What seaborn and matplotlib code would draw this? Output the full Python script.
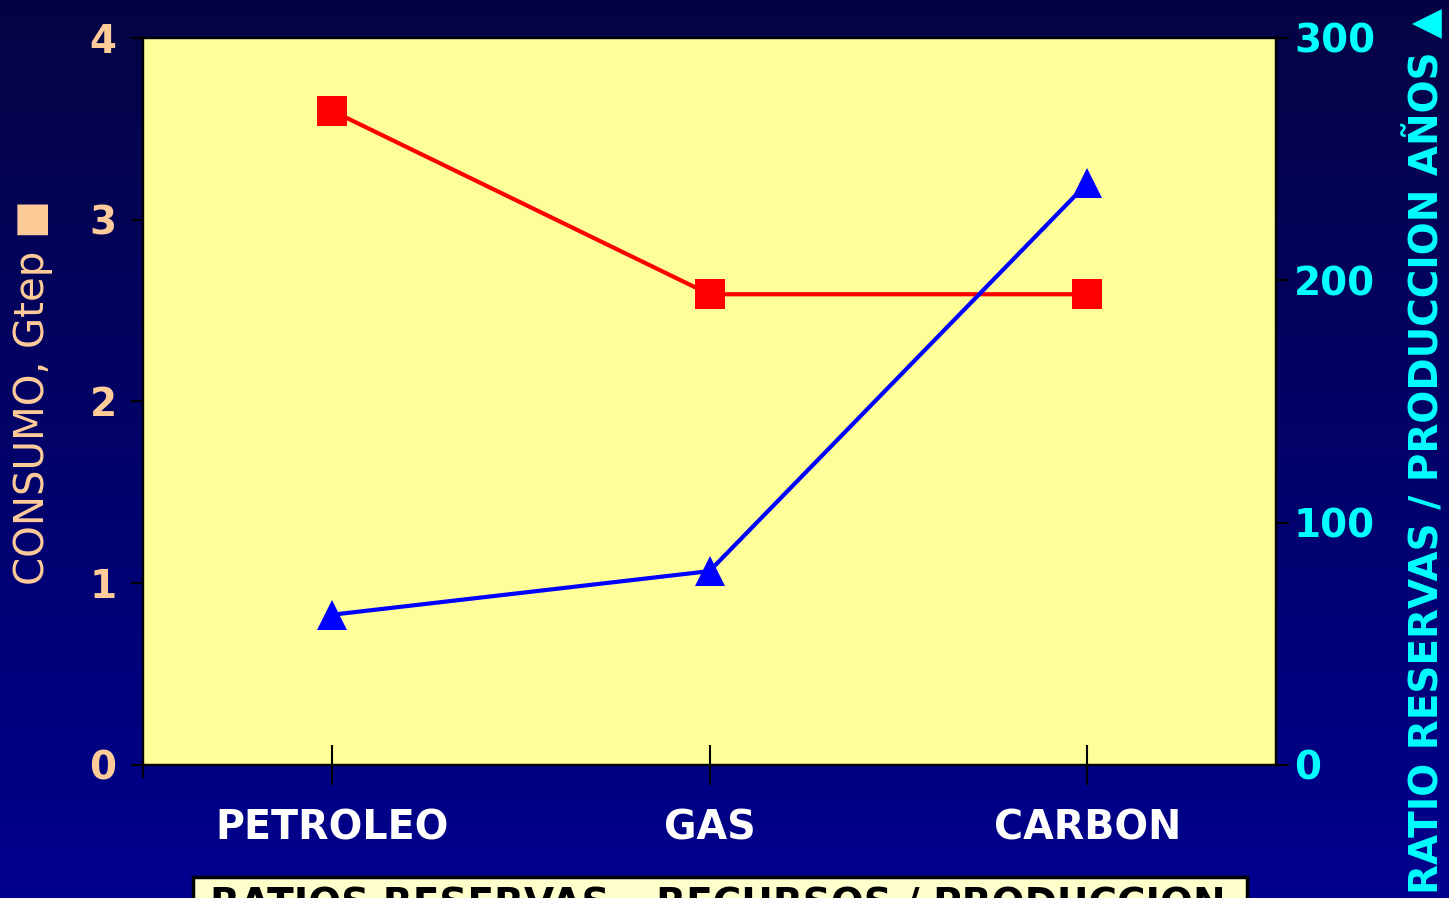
import numpy as np
import pandas as pd
import matplotlib
matplotlib.use("Agg")
import matplotlib.pyplot as plt
from matplotlib.patches import Rectangle
import seaborn as sns

# Data
fuentes = ["PETROLEO", "GAS", "CARBON"]
consumo_gtep = [3.60, 2.59, 2.59]          # left axis, Gtep
ratio_reservas_anios = [62, 80, 240]       # right axis, years

left_ticks = [0, 1, 2, 3, 4]
right_ticks = [0, 100, 200, 300]

sns.set_style("ticks")
plt.rcParams["font.family"] = ["DejaVu Sans"]

W, H = 1449, 898
fig = plt.figure(figsize=(W / 100, H / 100), dpi=100)

# Navy gradient backdrop
bg = fig.add_axes([0, 0, 1, 1])
bg.set_zorder(-5)
top = np.array([4, 4, 68]) / 255
bottom = np.array([0, 0, 142]) / 255
t = np.linspace(0, 1, 256)[:, None]
grad = (top[None, :] * (1 - t) + bottom[None, :] * t)[:, None, :]
bg.imshow(grad, aspect="auto", extent=[0, 1, 0, 1], origin="upper")
bg.set_axis_off()

ax = fig.add_axes([143 / W, 1 - 765 / H, (1276 - 143) / W, (765 - 38) / H])
ax.set_facecolor("#FFFF99")

df = pd.DataFrame({"fuente": fuentes, "consumo": consumo_gtep,
                   "ratio": ratio_reservas_anios})

sns.lineplot(data=df, x="fuente", y="consumo", ax=ax, sort=False,
             color="#FF0000", linewidth=3, marker="s", markersize=22,
             markeredgewidth=0)
ax.set_xlim(-0.5, 2.5)
ax.set_ylim(0, 4)
ax.set_yticks(left_ticks)
ax.set_xlabel("")
ax.set_ylabel("")

ax2 = ax.twinx()
sns.lineplot(data=df, x="fuente", y="ratio", ax=ax2, sort=False,
             color="#0000FF", linewidth=3, marker="^", markersize=22,
             markeredgewidth=0)
ax2.set_ylim(0, 300)
ax2.set_yticks(right_ticks)
ax2.set_xlabel("")
ax2.set_ylabel("")
ax2.set_xlim(-0.5, 2.5)

for a in (ax, ax2):
    for s in a.spines.values():
        s.set_color("black")
        s.set_linewidth(1.6)

ax.tick_params(axis="y", direction="out", length=9, width=1.5, color="black",
               labelcolor="#FFCC99", labelsize=28, pad=10)
for lbl in ax.get_yticklabels():
    lbl.set_fontweight("bold")
ax2.tick_params(axis="y", direction="out", length=9, width=1.5, color="black",
                labelcolor="#00FFFF", labelsize=28, pad=4)
for lbl in ax2.get_yticklabels():
    lbl.set_fontweight("bold")

ax.tick_params(axis="x", which="major", direction="inout", length=29, width=1.5,
               color="black", labelcolor="white", labelsize=28.5, pad=17)
for lbl in ax.get_xticklabels():
    lbl.set_fontweight("bold")
ax.set_xticks([-0.5], minor=True)
ax.tick_params(axis="x", which="minor", direction="out", length=9, width=1.5,
               color="black")

# Axis titles
fig.text(33 / W, 1 - 392 / H, "CONSUMO, Gtep \u25A0", rotation=90,
         color="#FFCC99", fontsize=29, ha="center", va="center")
fig.text(1425 / W, 1 - 451 / H, "RATIO RESERVAS / PRODUCCION AÑOS \u25B2",
         rotation=90, color="#00FFFF", fontsize=28, fontweight="bold",
         ha="center", va="center")

# Caption box at the bottom
fig.patches.append(Rectangle((193 / W, -0.05), (1247 - 193) / W,
                             0.05 + (898 - 877) / H, transform=fig.transFigure,
                             facecolor="#FFFFCC", edgecolor="black",
                             linewidth=2.5, zorder=5))
fig.text(210 / W, 1 - 886 / H, "RATIOS RESERVAS \u2013 RECURSOS / PRODUCCION",
         color="black", fontsize=28, fontweight="bold", ha="left", va="top",
         zorder=6)

fig.savefig("out.png", dpi=100)
